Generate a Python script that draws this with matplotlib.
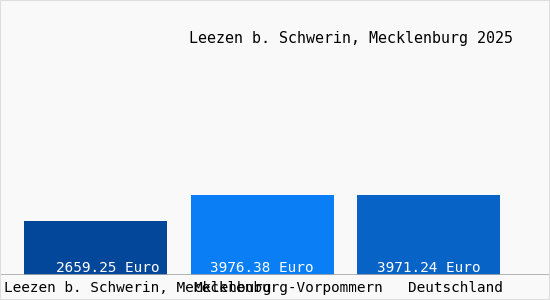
import matplotlib.pyplot as plt
import matplotlib.transforms as mtransforms
from matplotlib.patches import Rectangle

# data
regions = ["Leezen b. Schwerin, Mecklenburg", "Mecklenburg-Vorpommern", "Deutschland"]
values = [2659.25, 3976.38, 3971.24]
value_labels = ["2659.25 Euro", "3976.38 Euro", "3971.24 Euro"]
title = "Leezen b. Schwerin, Mecklenburg 2025"
colors = ["#03479a", "#0a7ef5", "#0863c7"]

W, H = 550, 300
fig = plt.figure(figsize=(W / 100, H / 100), dpi=100, facecolor="#f9f9f9")
fig.patches.append(Rectangle((0, 0), 1, 1, transform=fig.transFigure, fill=False,
                             edgecolor="#dedede", linewidth=1.5))

# axes covers the width, baseline at 275px from top
ax = fig.add_axes([0, 25 / H, 1, 275 / H])
ax.set_facecolor("none")
pitch = 166.5
ax.set_xlim(-95.5 / pitch, (W - 95.5) / pitch)
ax.set_ylim(0, max(values) * 275 / 80)
x = range(len(values))
ax.bar(x, values, width=143 / pitch, color=colors, zorder=2)
ax.axhline(0, color="#a8a8a8", linewidth=1.2, zorder=3)
for s in ax.spines.values():
    s.set_visible(False)
ax.set_xticks([])
ax.set_yticks([])

mono = "DejaVu Sans Mono"

# value labels inside bars
up = mtransforms.offset_copy(ax.transData, fig=fig, x=0, y=7, units="dots")
for i, (v, lab) in enumerate(zip(values, value_labels)):
    if i == 0:
        t = mtransforms.offset_copy(ax.transData, fig=fig, x=-8, y=7, units="dots")
        ax.text(i + 71.5 / pitch, 0, lab, transform=t, ha="right", va="center",
                color="white", fontsize=10.4, family=mono, zorder=4)
    else:
        ax.text(i, 0, lab, transform=up, ha="center", va="center",
                color="white", fontsize=10.4, family=mono, zorder=4)

# category labels under the baseline
down = mtransforms.offset_copy(ax.transData, fig=fig, x=0, y=-13, units="dots")
fig.text(4 / W, 1 - 288 / H, regions[0], ha="left", va="center",
         fontsize=10.4, family=mono, color="black")
for i in range(1, len(regions)):
    ax.text(i + 26.5 / pitch, 0, regions[i], transform=down, ha="center", va="center",
            fontsize=10.4, family=mono, color="black", clip_on=False)

fig.text(189 / W, 1 - 38 / H, title, ha="left", va="center",
         fontsize=10.8, family=mono, color="black")

fig.savefig("out.png", dpi=100, facecolor=fig.get_facecolor())
